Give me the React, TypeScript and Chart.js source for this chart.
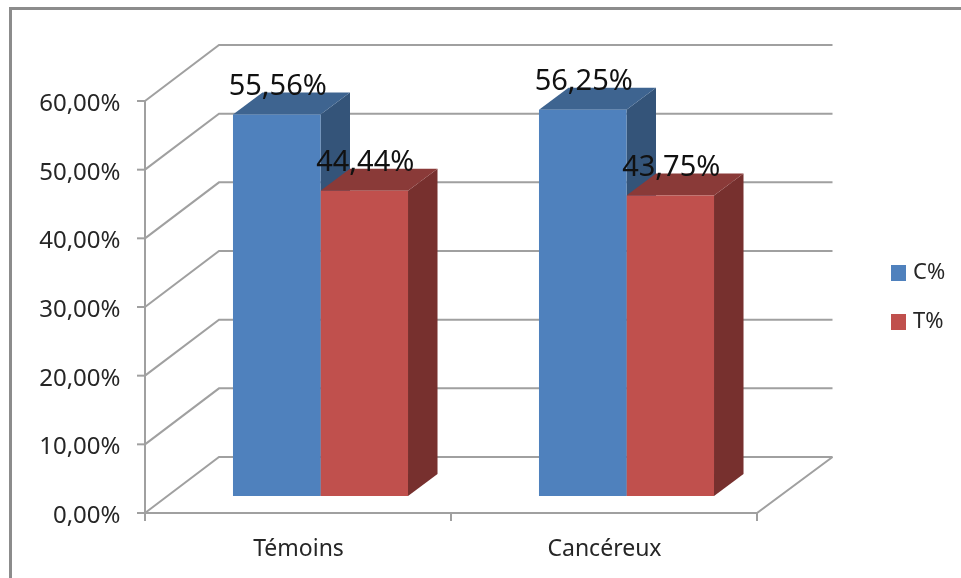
import { useEffect, useRef } from "react";
import { Chart, registerables } from "chart.js";

Chart.register(...registerables);

const categories = ["Témoins", "Cancéreux"];
const seriesNames = ["C%", "T%"];
const cValues = [55.56, 56.25];
const tValues = [44.44, 43.75];
const tickValues = [0, 10, 20, 30, 40, 50, 60];

const FONT = '"Noto Sans", sans-serif';
const GRID = "#a0a0a0";
const FRAME = "#8c8c8c";
const palette = [
  { front: "#4f81bd", top: "#3e6490", side: "#345479" },
  { front: "#c0504d", top: "#8a3a38", side: "#77302e" },
];

// Oblique projection of the box: the bars stand on a middle plane, the axes in
// front of it and the gridded wall behind it.
const FRONT = { dx: -22.5, dy: 17 };
const BACK = { dx: 51.5, dy: -39 };
const BACK_RIGHT_DX = 53;
const BAR_DEPTH = { dx: 29.5, dy: -22 };

const formatPercent = (v: number) => v.toFixed(2).replace(".", ",") + "%";

const line = (ctx: CanvasRenderingContext2D, pts: number[][]) => {
  ctx.beginPath();
  pts.forEach(([x, y], i) => (i ? ctx.lineTo(x, y) : ctx.moveTo(x, y)));
  ctx.stroke();
};

const poly = (ctx: CanvasRenderingContext2D, pts: number[][], fill: string) => {
  ctx.beginPath();
  pts.forEach(([x, y], i) => (i ? ctx.lineTo(x, y) : ctx.moveTo(x, y)));
  ctx.closePath();
  ctx.fillStyle = fill;
  ctx.fill();
};

// Legend swatch: wider than the narrow box slot so the label sits close to it.
const swatch = (color: string) => {
  const c = document.createElement("canvas");
  c.width = 15;
  c.height = 16;
  const g = c.getContext("2d")!;
  g.fillStyle = color;
  g.fillRect(0, 0, 15, 16);
  return c;
};

const box3d = {
  id: "box3d",
  beforeLayout(chart: any) {
    // The legend column is wider than its content, leaving a gap beside the wall.
    const legend = chart.legend;
    if (legend && !legend.__wide) {
      const fit = legend.fit;
      legend.fit = function () {
        fit.call(this);
        this.width = 181.5;
      };
      legend.__wide = true;
    }
  },
  afterLayout(chart: any) {
    const legend = chart.legend;
    if (legend) {
      legend.left = 895 - legend.options.labels.padding;
      legend.top -= 34;
      legend.bottom -= 34;
    }
  },
  beforeDraw(chart: any) {
    const { ctx, width, height } = chart;
    ctx.save();
    ctx.fillStyle = "#ffffff";
    ctx.fillRect(0, 0, width, height);
    ctx.strokeStyle = FRAME;
    ctx.lineWidth = 3;
    line(ctx, [[10.5, height + 2], [10.5, 8.5], [width + 2, 8.5]]);
    ctx.restore();
  },
  beforeDatasetsDraw(chart: any) {
    const { ctx, chartArea, scales } = chart;
    const { left, right } = chartArea;
    const y = scales.y;
    ctx.save();
    ctx.strokeStyle = GRID;
    ctx.lineWidth = 2;
    const baseFront = y.getPixelForValue(0) + FRONT.dy;
    const axisX = left + FRONT.dx;
    const rightFront = right + FRONT.dx;

    // Wall gridlines with their diagonal return to the value axis, plus ticks.
    tickValues.forEach((v) => {
      const p = y.getPixelForValue(v);
      line(ctx, [
        [axisX, p + FRONT.dy],
        [left + BACK.dx, p + BACK.dy],
        [right + BACK_RIGHT_DX, p + BACK.dy],
      ]);
      line(ctx, [[axisX - 8, p + FRONT.dy], [axisX, p + FRONT.dy]]);
    });

    // Value axis, floor edges and category ticks.
    line(ctx, [[axisX, y.getPixelForValue(60) + FRONT.dy], [axisX, baseFront + 8]]);
    line(ctx, [[axisX, baseFront], [rightFront, baseFront], [right + BACK_RIGHT_DX, y.getPixelForValue(0) + BACK.dy]]);
    const step = (right - left) / categories.length;
    for (let i = 1; i <= categories.length; i++) {
      const tx = axisX + step * i;
      line(ctx, [[tx, baseFront], [tx, baseFront + 8]]);
    }

    // Top and side faces; the library paints the front faces over them.
    chart.data.datasets.forEach((_: any, di: number) => {
      chart.getDatasetMeta(di).data.forEach((bar: any) => {
        const { x, y: top, base, width: w } = bar.getProps(["x", "y", "base", "width"], true);
        const l = x - w / 2;
        const r = x + w / 2;
        const { dx, dy } = BAR_DEPTH;
        poly(ctx, [[r, top], [r + dx, top + dy], [r + dx, base + dy], [r, base]], palette[di].side);
        poly(ctx, [[l, top], [l + dx, top + dy], [r + dx, top + dy], [r, top]], palette[di].top);
      });
    });
    ctx.restore();
  },
  afterDatasetsDraw(chart: any) {
    const { ctx } = chart;
    ctx.save();
    ctx.font = `29px ${FONT}`;
    ctx.fillStyle = "#111111";
    ctx.textAlign = "center";
    ctx.textBaseline = "middle";
    chart.data.datasets.forEach((ds: any, di: number) => {
      chart.getDatasetMeta(di).data.forEach((bar: any, i: number) => {
        ctx.fillText(formatPercent(ds.data[i]), bar.x + 1, bar.y - 28);
      });
    });
    ctx.restore();
  },
};

export default function App() {
  const ref = useRef<HTMLCanvasElement>(null);

  useEffect(() => {
    const chart = new Chart(ref.current!, {
      type: "bar",
      data: {
        labels: categories,
        datasets: [
          { label: seriesNames[0], data: cValues, backgroundColor: palette[0].front },
          { label: seriesNames[1], data: tValues, backgroundColor: palette[1].front },
        ],
      },
      plugins: [box3d],
      options: {
        animation: false,
        responsive: false,
        layout: { padding: { top: 84, left: 0, right: 0, bottom: 0 } },
        datasets: { bar: { categoryPercentage: 0.572, barPercentage: 1 } },
        plugins: {
          tooltip: { enabled: false },
          title: { display: false },
          legend: {
            position: "right",
            labels: {
              usePointStyle: true,
              boxWidth: 7,
              boxHeight: 15,
              padding: 27,
              color: "#262626",
              font: { family: FONT, size: 22 },
              generateLabels: () =>
                seriesNames.map((text, i) => ({
                  text,
                  datasetIndex: i,
                  fontColor: "#262626",
                  pointStyle: swatch(palette[i].front),
                  lineWidth: 0,
                })),
            },
          },
        },
        scales: {
          x: {
            grid: { display: false },
            border: { display: false },
            afterFit: (s: any) => {
              s.height = 82;
            },
            ticks: {
              color: "#262626",
              font: { family: FONT, size: 23 },
              padding: 32,
              labelOffset: -22,
              maxRotation: 0,
            },
          },
          y: {
            min: 0,
            max: 60,
            grid: { display: false },
            border: { display: false },
            afterFit: (s: any) => {
              s.width = 167.5;
            },
            afterBuildTicks: (s: any) => {
              s.ticks = tickValues.map((value) => ({ value }));
            },
            ticks: {
              color: "#262626",
              font: { family: FONT, size: 24 },
              padding: 39,
              labelOffset: 20,
              callback: (v: any) => formatPercent(Number(v)),
            },
          },
        },
      } as any,
    });
    return () => chart.destroy();
  }, []);

  return (
    <div style={{ position: "fixed", left: 0, top: 0, width: 961, height: 578 }}>
      <canvas ref={ref} width={961} height={578} style={{ display: "block" }} />
    </div>
  );
}
